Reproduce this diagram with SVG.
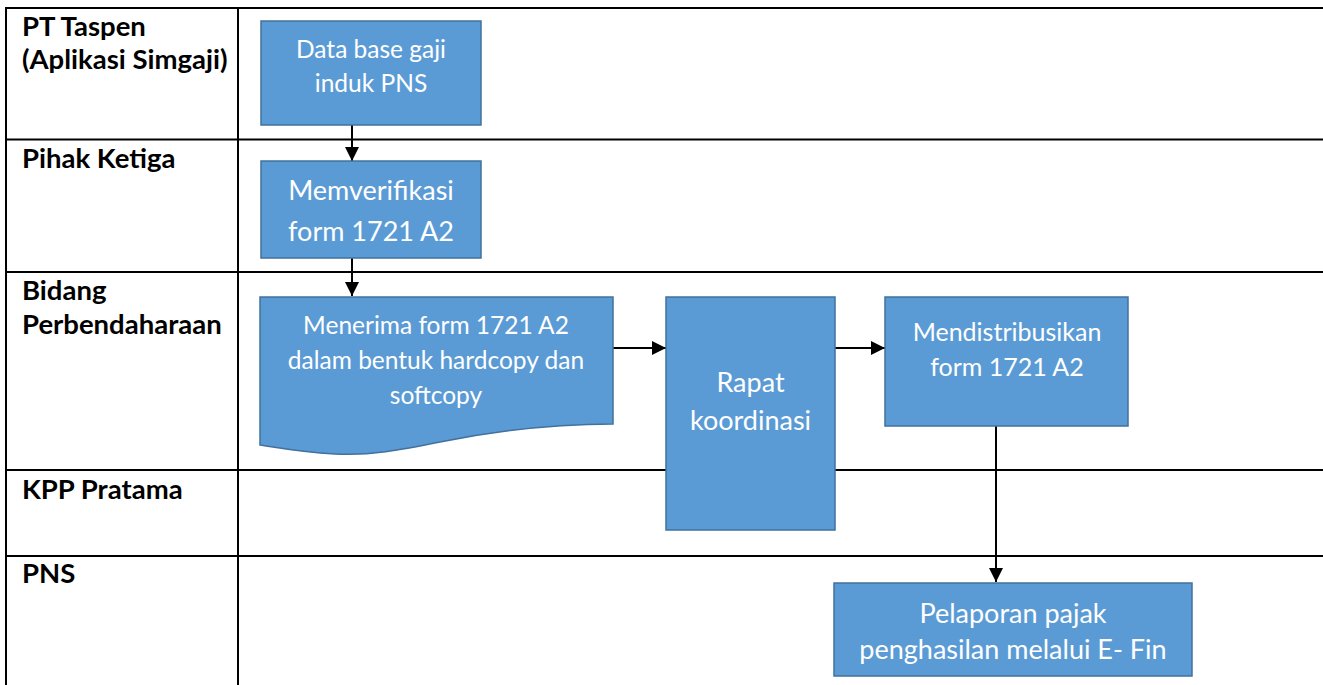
<svg xmlns="http://www.w3.org/2000/svg" width="1323" height="685" viewBox="0 0 1323 685">
  <defs>
    <marker id="arrow" viewBox="0 0 14 14" refX="14" refY="7" markerWidth="14" markerHeight="14" markerUnits="userSpaceOnUse" orient="auto">
      <path d="M0,0 L14,7 L0,14 Z" fill="#000"/>
    </marker>
    <style>
      .grid { stroke: #000; stroke-width: 2; fill: none; }
      .lane { font-family: Lato, "Open Sans", "Liberation Sans", sans-serif; font-weight: bold; font-size: 27.5px; fill: #000; }
      .box { fill: #5B9BD5; stroke: #41719C; stroke-width: 1.5; }
      .txt { font-family: Lato, "Open Sans", "Liberation Sans", sans-serif; font-size: 24.5px; fill: #fff; text-anchor: middle; }
      .mid { font-size: 25px; }
      .big { font-size: 27px; }
      .conn { stroke: #000; stroke-width: 2; fill: none; marker-end: url(#arrow); }
    </style>
  </defs>
  <rect width="1323" height="685" fill="#fff"/>

  <!-- swimlane table -->
  <g id="lanes">
    <line class="grid" x1="5" y1="8" x2="1323" y2="8"/>
    <line class="grid" x1="6" y1="7" x2="6" y2="685"/>
    <line class="grid" x1="238" y1="7" x2="238" y2="685"/>
    <line class="grid" x1="5" y1="139.5" x2="1323" y2="139.5"/>
    <line class="grid" x1="5" y1="272" x2="1323" y2="272"/>
    <line class="grid" x1="5" y1="470" x2="1323" y2="470"/>
    <line class="grid" x1="5" y1="556" x2="1323" y2="556"/>
    <text class="lane" x="22" y="36">PT Taspen</text>
    <text class="lane" x="22" y="69">(Aplikasi Simgaji)</text>
    <text class="lane" x="22" y="168">Pihak Ketiga</text>
    <text class="lane" x="22" y="300">Bidang</text>
    <text class="lane" x="22" y="334">Perbendaharaan</text>
    <text class="lane" x="22" y="499">KPP Pratama</text>
    <text class="lane" x="22" y="583">PNS</text>
  </g>

  <!-- connectors -->
  <g id="connectors">
    <line class="conn" x1="352" y1="125" x2="352" y2="161"/>
    <line class="conn" x1="352" y1="258" x2="352" y2="296"/>
    <line class="conn" x1="613" y1="348" x2="666" y2="348"/>
    <line class="conn" x1="835" y1="348" x2="885" y2="348"/>
    <line class="conn" x1="996" y1="426" x2="996" y2="582"/>
  </g>

  <g id="n1">
    <rect class="box" x="261" y="21" width="220" height="104"/>
    <text class="txt" x="371" y="58">Data base gaji</text>
    <text class="txt" x="371" y="92">induk PNS</text>
  </g>

  <g id="n2">
    <rect class="box" x="261" y="161" width="220" height="97"/>
    <text class="txt big" x="371" y="200">Memverifikasi</text>
    <text class="txt big" x="371" y="241">form 1721 A2</text>
  </g>

  <g id="n3">
    <path class="box" d="M260,297 H613 V424 C560,424 500,430 440,442 C400,450 370,456 335,454 C300,452 280,448 260,445 Z"/>
    <text class="txt" x="436" y="334">Menerima form 1721 A2</text>
    <text class="txt" x="436" y="369">dalam bentuk hardcopy dan</text>
    <text class="txt" x="436" y="404">softcopy</text>
  </g>

  <g id="n4">
    <rect class="box" x="666" y="297" width="169" height="233"/>
    <text class="txt big" x="750.5" y="392">Rapat</text>
    <text class="txt big" x="750.5" y="430">koordinasi</text>
  </g>

  <g id="n5">
    <rect class="box" x="885" y="297" width="243" height="129"/>
    <text class="txt mid" x="1007" y="341">Mendistribusikan</text>
    <text class="txt mid" x="1007" y="376">form 1721 A2</text>
  </g>

  <g id="n6">
    <rect class="box" x="834" y="583" width="358" height="93"/>
    <text class="txt big" x="1013" y="623">Pelaporan pajak</text>
    <text class="txt big" x="1013" y="659">penghasilan melalui E- Fin</text>
  </g>
</svg>
